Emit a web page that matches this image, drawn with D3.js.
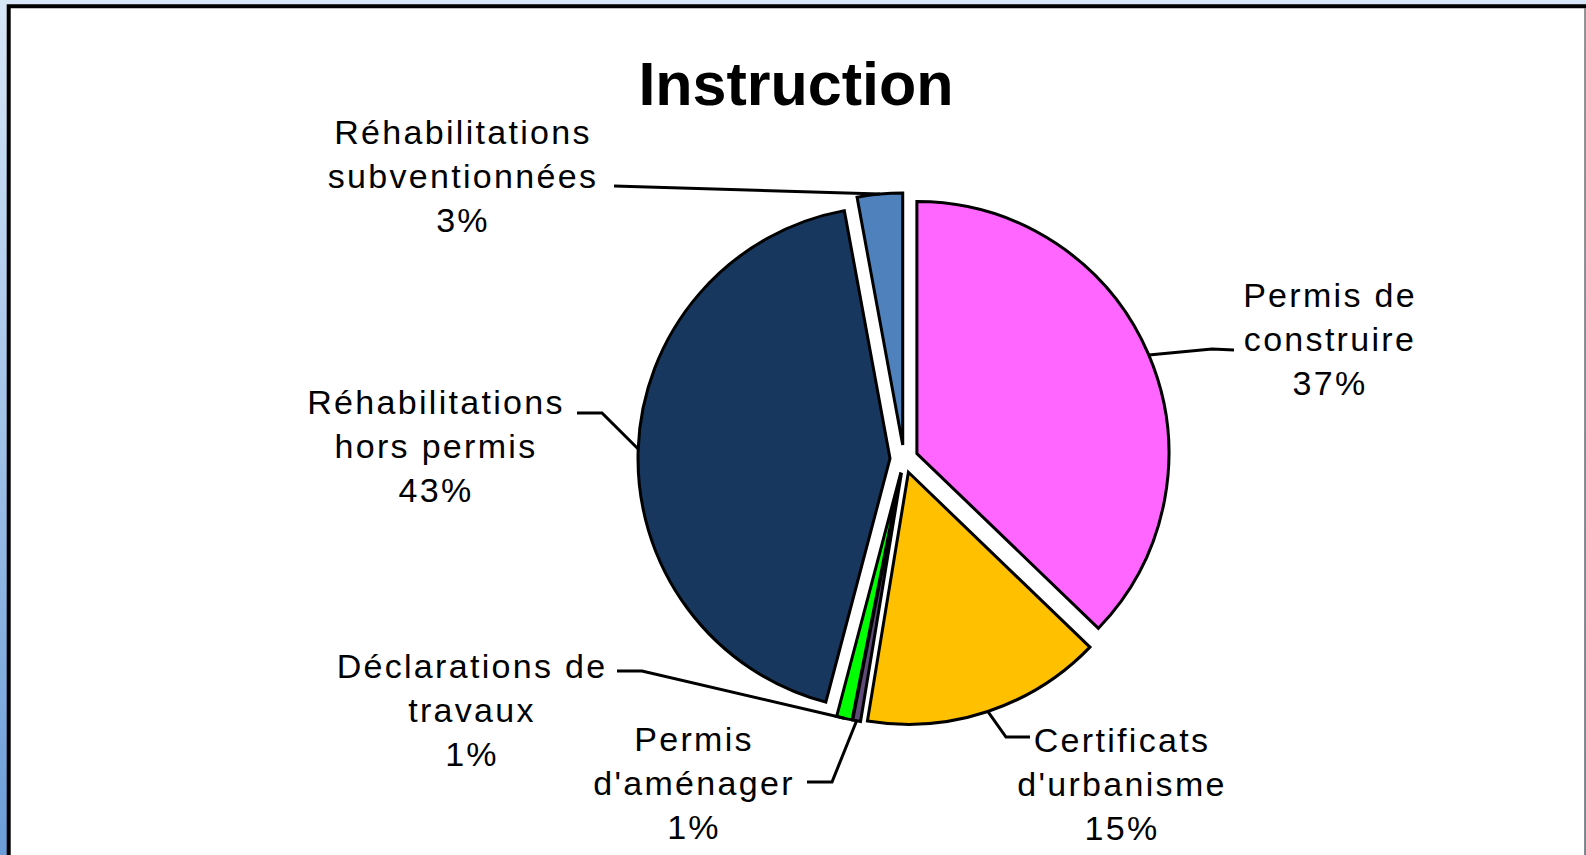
<!DOCTYPE html>
<html>
<head>
<meta charset="utf-8">
<script src="https://cdn.jsdelivr.net/npm/d3@7"></script>
<style>
    body { margin: 0; overflow: hidden; }
    #chart { width: 1586px; height: 855px; }
</style>
</head>
<body>
<div id="chart"></div>
<script>
// Chart data
var categories = ["Permis de construire", "Certificats d'urbanisme", "Permis d'aménager",
    "Déclarations de travaux", "Réhabilitations hors permis", "Réhabilitations subventionnées"];
var values = [37.2, 15.4, 0.5, 1.0, 43.0, 2.9];
var labelLines = [
    ["Permis de", "construire"],
    ["Certificats", "d'urbanisme"],
    ["Permis", "d'aménager"],
    ["Déclarations de", "travaux"],
    ["Réhabilitations", "hors permis"],
    ["Réhabilitations", "subventionnées"]
];
var colors = ["#ff66ff", "#ffc000", "#5f4b78", "#00ff00", "#17375e", "#4f81bd"];

function init() {
    var w = 1586;
    var h = 855;
    var cx = 904, cy = 459;
    var radius = 252;
    var explode = 14;

    // label layout: centre x, first baseline, leader start + elbow
    var labelPos = [
        { x: 1330, y: 307, pts: [[1234, 350], [1212, 349]] },
        { x: 1122, y: 752, pts: [[1030, 737], [1006, 737]] },
        { x: 694, y: 751, pts: [[807, 782], [832, 782]] },
        { x: 472, y: 678, pts: [[617, 671], [642, 671]] },
        { x: 436, y: 414, pts: [[577, 413], [602, 413]] },
        { x: 463, y: 144, pts: [[614, 186]] }
    ];

    var svg = d3.select("#chart")
        .append("svg")
        .attr("width", w)
        .attr("height", h);

    var grad = svg.append("defs").append("linearGradient")
        .attr("id", "bg")
        .attr("x1", 0).attr("y1", 0).attr("x2", 0).attr("y2", 1);
    grad.append("stop").attr("offset", "0%").attr("stop-color", "#d8e7f8");
    grad.append("stop").attr("offset", "100%").attr("stop-color", "#6b9dd8");

    svg.append("rect")
        .attr("width", w).attr("height", h)
        .attr("fill", "url(#bg)");

    // chart panel
    svg.append("rect")
        .attr("x", 8.5).attr("y", 6.3)
        .attr("width", 1576).attr("height", 900)
        .attr("fill", "white");
    svg.append("path")
        .attr("d", "M8.7,860 L8.7,6.3 L1586,6.3")
        .attr("fill", "none")
        .attr("stroke", "black")
        .attr("stroke-width", 4);
    svg.append("line")
        .attr("x1", 1585).attr("y1", 8).attr("x2", 1585).attr("y2", h)
        .attr("stroke", "#777").attr("stroke-width", 1.5);

    svg.append("text")
        .attr("x", 796).attr("y", 105)
        .attr("text-anchor", "middle")
        .style("font-family", "'Liberation Sans', Arial, sans-serif")
        .style("font-weight", "bold")
        .style("font-size", "61px")
        .text("Instruction");

    var pie = d3.pie().sort(null).value(function (d) { return d; });
    var arcs = pie(values);
    var total = d3.sum(values);

    var arc = d3.arc().innerRadius(0).outerRadius(radius);

    function offset(d) {
        var mid = (d.startAngle + d.endAngle) / 2;
        return [cx + explode * Math.sin(mid), cy - explode * Math.cos(mid)];
    }

    svg.selectAll("path.slice")
        .data(arcs)
        .enter()
        .append("path")
        .attr("class", "slice")
        .attr("transform", function (d) { var o = offset(d); return "translate(" + o[0] + "," + o[1] + ")"; })
        .attr("d", arc)
        .attr("fill", function (d, i) { return colors[i]; })
        .attr("stroke", "black")
        .attr("stroke-width", 3)
        .attr("stroke-linejoin", "miter");

    // leader lines
    var line = d3.line();
    arcs.forEach(function (d, i) {
        var o = offset(d);
        var mid = (d.startAngle + d.endAngle) / 2;
        var end = [o[0] + radius * Math.sin(mid), o[1] - radius * Math.cos(mid)];
        var pts = labelPos[i].pts.concat([end]);
        svg.append("path")
            .attr("d", line(pts))
            .attr("fill", "none")
            .attr("stroke", "black")
            .attr("stroke-width", 3);
    });

    // labels
    arcs.forEach(function (d, i) {
        var lines = labelLines[i].concat([Math.round(d.value / total * 100) + "%"]);
        var t = svg.append("text")
            .attr("text-anchor", "middle")
            .style("font-family", "'Liberation Sans', Arial, sans-serif")
            .style("font-size", "34px")
            .style("letter-spacing", "2.3px")
            .attr("fill", "black");
        lines.forEach(function (s, j) {
            t.append("tspan")
                .attr("x", labelPos[i].x)
                .attr("y", labelPos[i].y + j * 44)
                .text(s);
        });
    });
}

window.onload = init;
</script>
</body>
</html>
